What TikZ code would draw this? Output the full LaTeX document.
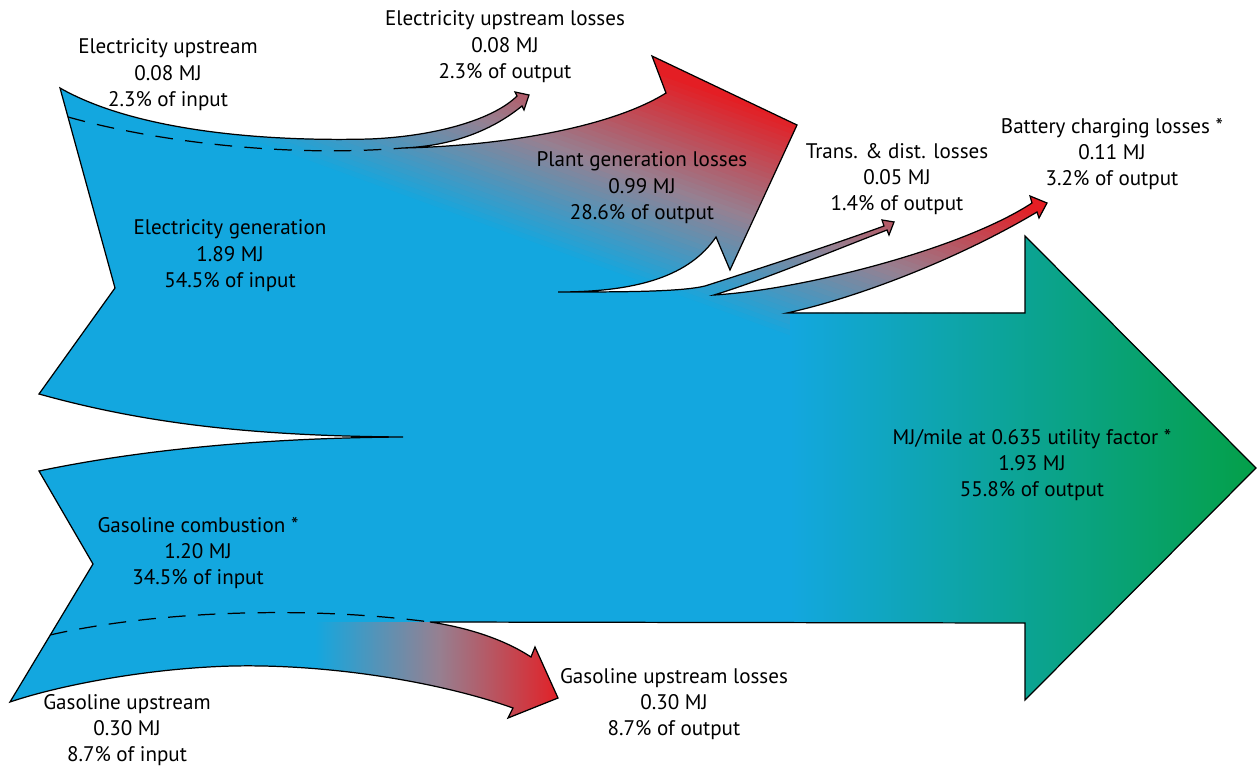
\documentclass[tikz,border=0pt]{standalone}
\usepackage{fontspec}
\setmainfont{PT Sans}
\definecolor{elecblue}{RGB}{19,167,223}
\definecolor{lossgray}{RGB}{150,128,145}
\definecolor{lossred}{RGB}{228,30,36}
\definecolor{fuelgreen}{RGB}{4,160,72}

% outline of the whole flow, in pixels
\newcommand{\flowoutline}{%
  (60,88) .. controls (130,128) and (250,142) .. (370,139)
  .. controls (440,136) and (495,118) .. (517,96)
  -- (515,92) -- (529,95) -- (524,110) -- (522,106)
  .. controls (490,132) and (450,146) .. (403,148)
  .. controls (500,146) and (610,128) .. (666,93)
  -- (652,56) -- (797,125) -- (730,270) -- (716,237)
  .. controls (690,275) and (640,292) .. (558,292)
  .. controls (620,292) and (680,292) .. (705,286)
  .. controls (780,262) and (840,242) .. (884,226)
  -- (882,220) -- (894,222) -- (889,235) -- (887,230)
  .. controls (820,256) and (760,281) .. (714,295)
  .. controls (800,290) and (960,250) .. (1032,203)
  -- (1030,196) -- (1047,203) -- (1039,218) -- (1037,212)
  .. controls (960,258) and (860,297) .. (787,313)
  -- (1025,313) -- (1025,236) -- (1256,468) -- (1025,700) -- (1025,623)
  -- (430,622)
  .. controls (470,628) and (505,640) .. (531,657)
  -- (535,647) -- (558,698) -- (508,718) -- (513,708)
  .. controls (440,682) and (330,664) .. (233,666)
  .. controls (150,668) and (60,685) .. (10,702)
  -- (93,564) -- (39,471)
  .. controls (130,452) and (250,438) .. (403,437)
  .. controls (260,436) and (150,425) .. (39,394)
  -- (115,288) -- cycle}

\begin{document}
\begin{tikzpicture}[x=0.02cm,y=-0.02cm,
  lbl/.style={align=center,inner sep=0pt,font=\fontsize{12}{15}\selectfont},
  splitline/.style={dash pattern=on 10pt off 7pt,line width=0.7pt}]

  \useasboundingbox (0,0) rectangle (1258,770);

  \fill[elecblue] \flowoutline;
  \begin{scope}
    \clip \flowoutline;
    % electricity losses, blue to gray to red
    \foreach \k in {0,...,41}{
      \pgfmathsetmacro\ta{-50+5*\k}
      \pgfmathsetmacro\tb{\k==41 ? 400 : \ta+6}
      \pgfmathsetmacro\mix{\k<21 ? 100*\k/20 : 100*(\k-20)/21}
      \ifnum\k<21
        \colorlet{stripcol}{lossgray!\mix!elecblue}
      \else
        \colorlet{stripcol}{lossred!\mix!lossgray}
      \fi
      \fill[stripcol]
        ({0.342*\ta+0.94*200},{-0.94*\ta+0.342*200}) -- ({0.342*\ta+0.94*1200},{-0.94*\ta+0.342*1200})
        -- ({0.342*\tb+0.94*1200},{-0.94*\tb+0.342*1200}) -- ({0.342*\tb+0.94*200},{-0.94*\tb+0.342*200}) -- cycle;
    }
    % gasoline upstream losses
    \shade[left color=elecblue,right color=lossred,middle color=lossgray] (315,622.6) rectangle (562,725);
    % output
    \shade[left color=elecblue,right color=fuelgreen] (790,313) rectangle (1258,710) (1024,228) rectangle (1258,313);
  \end{scope}
  \draw[line width=0.7pt,line join=miter] \flowoutline;

  % upstream split lines
  \draw[splitline] (68,117) .. controls (150,140) and (280,158) .. (403,148);
  \draw[splitline] (50,635) .. controls (150,612) and (300,605) .. (430,622);

  \node[lbl] (elecup) at (168,75) {Electricity upstream\\0.08 MJ\\2.3\% of input};
  \node[lbl] (elecuploss) at (505,47) {Electricity upstream losses\\0.08 MJ\\2.3\% of output};
  \node[lbl] (plantloss) at (642,188) {Plant generation losses\\0.99 MJ\\28.6\% of output};
  \node[lbl] (tdloss) at (897,179) {Trans. \& dist. losses\\0.05 MJ\\1.4\% of output};
  \node[lbl] (battloss) at (1112,154) {Battery charging losses *\\0.11 MJ\\3.2\% of output};
  \node[lbl] (elecgen) at (230,256) {Electricity generation\\1.89 MJ\\54.5\% of input};
  \node[lbl] (gascomb) at (198,553) {Gasoline combustion *\\1.20 MJ\\34.5\% of input};
  \node[lbl] (gasup) at (127,730) {Gasoline upstream\\0.30 MJ\\8.7\% of input};
  \node[lbl] (gasuploss) at (674,704) {Gasoline upstream losses\\0.30 MJ\\8.7\% of output};
  \node[lbl] (output) at (1032,465) {MJ/mile at 0.635 utility factor *\\1.93 MJ\\55.8\% of output};

\end{tikzpicture}
\end{document}
